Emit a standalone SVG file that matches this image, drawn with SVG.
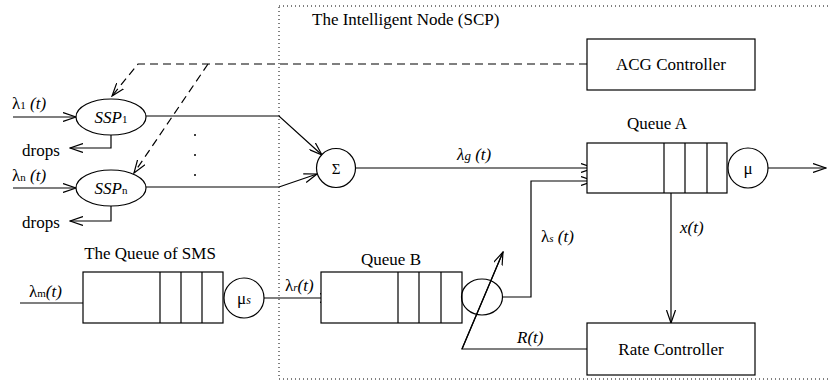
<svg xmlns="http://www.w3.org/2000/svg" width="830" height="384" viewBox="0 0 830 384" font-family="'Liberation Serif', 'Times New Roman', Times, 'DejaVu Serif', serif">
<defs>
<marker id="arr" viewBox="0 0 14 10" refX="13" refY="5" markerWidth="14" markerHeight="10" markerUnits="userSpaceOnUse" orient="auto">
<path d="M0,0.5 L13,5 L0,9.5" fill="none" stroke="#000" stroke-width="1.2" stroke-dasharray="none"/>
</marker>
</defs>
<style>
.ln{fill:none;stroke:#000;stroke-width:1.2}
.dash{fill:none;stroke:#000;stroke-width:1.2;stroke-dasharray:8,5}
.dot{fill:none;stroke:#000;stroke-width:1;stroke-dasharray:1,3}
.box{fill:#fff;stroke:#000;stroke-width:1.2}
text{font-family:'Liberation Serif','Times New Roman',Times,'DejaVu Serif',serif;font-size:17px;fill:#000}
.it{font-style:italic}
.sub{font-size:11px;font-style:normal}
.c{text-anchor:middle}
</style>
<rect id="scp" class="dot" x="279" y="6" width="560" height="373"/>
<text x="312" y="25">The Intelligent Node (SCP)</text>

<g id="connectors">
<path class="dash" d="M587,64 L138,64 L112,96" marker-end="url(#arr)"/>
<path class="dash" d="M208,64 L134,173" marker-end="url(#arr)"/>
<path class="ln" d="M13,117 L76,117" marker-end="url(#arr)"/>
<path class="ln" d="M111,135 L111,148 L70,148" marker-end="url(#arr)"/>
<path class="ln" d="M13,188 L76,188" marker-end="url(#arr)"/>
<path class="ln" d="M111,206 L111,221 L70,221" marker-end="url(#arr)"/>
<path class="ln" d="M146,116 L279,116 L322,155" marker-end="url(#arr)"/>
<path class="ln" d="M146,187 L279,187 L317,174" marker-end="url(#arr)"/>
<path class="ln" d="M355,168 L594,168" marker-end="url(#arr)"/>
<path class="ln" d="M502,297 L531,297 L531,181 L594,181" marker-end="url(#arr)"/>
<path class="ln" d="M768,168 L826,168" marker-end="url(#arr)"/>
<path class="ln" d="M671,193 L671,323" marker-end="url(#arr)"/>
<path class="ln" d="M20,303 L110,303" marker-end="url(#arr)"/>
<path class="ln" d="M264,298 L333,298" marker-end="url(#arr)"/>
<path class="ln" d="M587,349 L462,349 L503,252" marker-end="url(#arr)"/>
</g>

<g id="ssp1">
<ellipse class="box" cx="111" cy="117" rx="35" ry="18"/>
<text x="111" y="123" class="c"><tspan class="it">SSP</tspan><tspan class="sub">1</tspan></text>
</g>
<g id="sspn">
<ellipse class="box" cx="111" cy="188" rx="35" ry="18"/>
<text x="111" y="194" class="c"><tspan class="it">SSP</tspan><tspan class="sub">n</tspan></text>
</g>
<g id="labels-left">
<text x="12" y="109">λ<tspan class="sub">1</tspan><tspan class="it"> (t)</tspan></text>
<text x="12" y="181">λ<tspan class="sub">n</tspan><tspan class="it"> (t)</tspan></text>
<text x="22" y="156">drops</text>
<text x="22" y="228">drops</text>
<circle cx="195" cy="135" r="1" fill="#000"/>
<circle cx="195" cy="155" r="1" fill="#000"/>
<circle cx="195" cy="175" r="1" fill="#000"/>
</g>

<g id="sigma">
<circle class="box" cx="336" cy="168" r="19.5"/>
<text x="336" y="174" class="c" style="font-size:15px">Σ</text>
</g>
<text x="457" y="160" class="it">λ<tspan style="font-size:13px">g</tspan> (t)</text>

<g id="acg">
<rect class="box" x="587" y="39" width="168" height="51"/>
<text x="671" y="70" class="c">ACG Controller</text>
</g>

<g id="queueA">
<text x="657" y="129" class="c">Queue A</text>
<rect class="box" x="587" y="143" width="140" height="50"/>
<path class="ln" d="M664,143 V193 M685,143 V193 M707,143 V193"/>
<circle class="box" cx="748" cy="168" r="20"/>
<text x="748" y="174" class="c">μ</text>
</g>
<text x="680" y="233" class="it">x(t)</text>

<g id="rate">
<rect class="box" x="587" y="323" width="168" height="52"/>
<text x="671" y="355" class="c">Rate Controller</text>
</g>

<g id="sms">
<text x="150" y="259" class="c">The Queue of SMS</text>
<rect class="box" x="83" y="272" width="140" height="51"/>
<path class="ln" d="M160,272 V323 M181,272 V323 M202,272 V323"/>
<circle class="box" cx="244" cy="298" r="20"/>
<text x="244" y="304" class="c">μ<tspan class="it" style="font-size:12px">s</tspan></text>
</g>
<text x="29" y="297">λ<tspan class="sub">m</tspan><tspan class="it">(t)</tspan></text>
<text x="285" y="291">λ<tspan class="sub" style="font-style:italic">r</tspan><tspan class="it">(t)</tspan></text>

<g id="queueB">
<text x="391" y="265" class="c">Queue B</text>
<rect class="box" x="321" y="272" width="141" height="51"/>
<path class="ln" d="M398,272 V323 M419,272 V323 M441,272 V323"/>
<ellipse class="ln" cx="482" cy="297" rx="20.5" ry="18"/>
</g>
<path class="ln" d="M462,349 L503,252"/>
<text x="541" y="242">λ<tspan class="sub" style="font-style:italic">s</tspan><tspan class="it"> (t)</tspan></text>
<text x="517" y="343" class="it">R(t)</text>
</svg>
